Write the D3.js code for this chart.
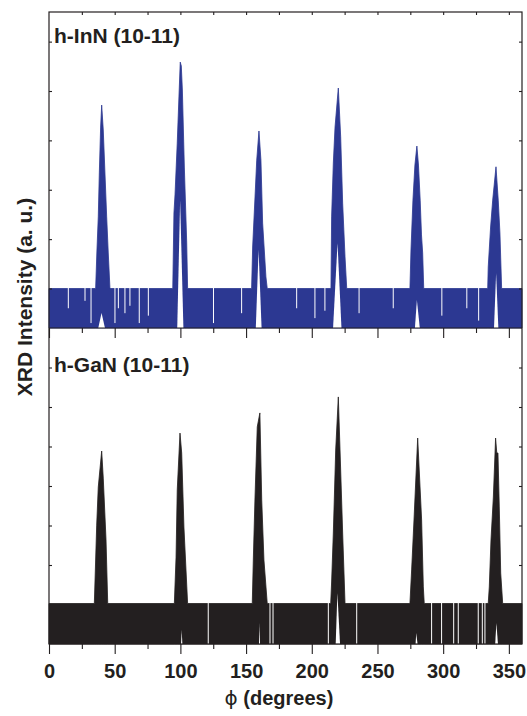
<!DOCTYPE html>
<html>
<head>
<meta charset="utf-8">
<script src="https://cdn.jsdelivr.net/npm/d3@7"></script>
<style>
  body { margin: 0; background: #fff; }
  text { font-family: Arial, "Liberation Sans", sans-serif; font-weight: bold; fill: #231f20; }
</style>
</head>
<body>
<div id="chart"></div>
<script>
// phi axis ticks
const phiMajor = [0, 50, 100, 150, 200, 250, 300, 350];
const phiMinor = [25, 75, 125, 175, 225, 275, 325];
const inNTicks = [200, 400, 600, 800, 1000, 1200];
const gaNTicks = [200, 400, 600, 800, 1000, 1200, 1400];

// h-InN (10-11): upper envelope of the trace [phi, counts]
const inNEnvelope = [
    [0, 200],
    [35.5, 200], [36.5, 356], [37.5, 490], [38.3, 668], [39.3, 854], [40.1, 943], [41.3, 842], [43.9, 490], [45.1, 344], [46.4, 200],
    [94.2, 200], [95.1, 506], [95.9, 579], [97.6, 789], [98.9, 976], [99.9, 1117], [100.7, 1101], [101.5, 1004], [103, 692], [104.8, 388], [105.5, 200],
    [154.2, 200], [155, 368], [156.8, 571], [158.1, 720], [159.8, 838], [161.3, 720], [162.6, 465], [165.1, 247], [166.1, 200],
    [214.6, 200], [215.1, 490], [216.4, 708], [217.7, 854], [220.2, 1012], [222, 814], [223.5, 546], [225.3, 328], [226.6, 200],
    [274.7, 200], [275.5, 356], [277, 558], [278.5, 700], [280, 777], [281.2, 700], [282.5, 558], [283.5, 417], [284.4, 344], [285.2, 200],
    [333.9, 200], [334.3, 287], [336.1, 449], [337.7, 558], [340.2, 693], [341.9, 558], [343.2, 425], [344.5, 200],
    [360, 200]
];
// white notches under the InN peaks (lowest counts reached)
const inNNotches = [
    [[37.5, 40], [40, 101], [42.6, 40]],
    [[97.6, 40], [99.8, 558], [102.3, 40]],
    [[157.4, 40], [159.5, 356], [161.8, 40]],
    [[216.2, 40], [219.6, 384], [222.6, 40]],
    [[278.5, 40], [280, 153], [282.2, 40]],
    [[338.7, 40], [340.3, 263], [342, 40]]
];
// dropouts in the InN noise band [phi, counts reached]
const inNGaps = [
    [14.7, 120], [27.4, 150], [32.0, 60], [50.2, 60], [52.8, 120], [57.8, 100], [61.6, 130],
    [68.7, 60], [75.6, 90], [125.2, 60], [146.6, 100], [188.5, 120], [202.4, 80], [210, 110],
    [236, 100], [262, 120], [299, 90], [318, 120], [327, 70]
];

// h-GaN (10-11)
const gaNEnvelope = [
    [0, 205],
    [34.5, 205], [36.3, 602], [37.5, 795], [40.1, 977], [41.3, 840], [43.4, 527], [44.7, 205],
    [95.4, 205], [96.7, 440], [97.6, 780], [99.7, 1068], [101, 967], [102.7, 592], [105.5, 205],
    [154.7, 205], [155.5, 425], [156.8, 744], [158.5, 1099], [160.5, 1170], [161.9, 729], [163.6, 425], [166.1, 205],
    [214.4, 205], [215.1, 314], [216.4, 562], [218.2, 982], [220.2, 1251], [221.5, 982], [223.5, 562], [225.3, 205],
    [274.7, 205], [276, 375], [277.8, 628], [280.6, 1043], [283.6, 628], [284.9, 289], [285.6, 205],
    [334.3, 205], [335.1, 289], [336.4, 527], [338.2, 744], [339.9, 1043], [340.8, 967], [341.7, 967], [342.7, 694], [343.8, 359], [345.3, 205],
    [360, 205]
];
const gaNNotches = [
    [[100.5, 0], [101, 71], [101.5, 0]],
    [[159.8, 0], [160.2, 106], [160.6, 0]],
    [[218.2, 0], [219.5, 258], [221.5, 0]],
    [[279, 0], [279.5, 56], [280.5, 0]],
    [[339.6, 0], [340.5, 106], [341.7, 0]]
];
const gaNGaps = [
    [121.2, 0], [168.2, 0], [170.5, 0], [212.6, 0], [234.2, 0], [291.2, 0], [298.8, 0],
    [308, 0], [311.5, 0], [326.7, 0], [329.8, 0], [331.8, 0]
];

const width = 527;
const height = 716;
const plot = { left: 49, right: 522, top: 12, mid: 328, bottom: 644 };
const ink = '#231f20';

const svg = d3.select('#chart').append('svg')
    .attr('width', width)
    .attr('height', height);

const x = d3.scaleLinear().domain([0, 360]).range([plot.left, plot.right]);
const yTop = d3.scaleLinear().domain([40, 1320]).range([plot.mid, plot.top]);
const yBot = d3.scaleLinear().domain([0, 1600]).range([plot.bottom, plot.mid]);

function drawTrace(envelope, notches, gaps, y, color, noiseTop) {
    const base = y.domain()[0];
    const area = d3.area()
        .x(d => x(d[0]))
        .y0(y(base))
        .y1(d => y(d[1]));
    svg.append('path')
        .datum(envelope)
        .attr('d', area)
        .attr('fill', color)
        .attr('stroke', color)
        .attr('stroke-width', 0.8);

    svg.selectAll(null)
        .data(notches)
        .enter().append('path')
        .attr('d', area)
        .attr('fill', '#fff');

    svg.selectAll(null)
        .data(gaps)
        .enter().append('line')
        .attr('x1', d => x(d[0]))
        .attr('x2', d => x(d[0]))
        .attr('y1', y(noiseTop) - 1)
        .attr('y2', d => y(d[1]))
        .attr('stroke', '#fff')
        .attr('stroke-width', 1);
}

drawTrace(inNEnvelope, inNNotches, inNGaps, yTop, '#2c3892', 200);
drawTrace(gaNEnvelope, gaNNotches, gaNGaps, yBot, ink, 205);

// axes
function addAxis(axis, tx, ty) {
    const g = svg.append('g')
        .attr('transform', `translate(${tx},${ty})`)
        .call(axis);
    g.select('.domain').remove();
    g.selectAll('line').attr('stroke', ink).attr('stroke-width', 1.1);
    return g;
}

// top border, inward ticks
addAxis(d3.axisBottom(x).tickValues(phiMajor.concat(phiMinor).filter(d => d > 0)).tickSize(3).tickFormat(''), 0, plot.top);
// middle axis (below InN panel), outward ticks
addAxis(d3.axisBottom(x).tickValues(phiMajor).tickSize(10).tickFormat(''), 0, plot.mid);
addAxis(d3.axisBottom(x).tickValues(phiMinor).tickSize(5).tickFormat(''), 0, plot.mid);
// bottom axis
const bottomAxis = addAxis(d3.axisBottom(x).tickValues(phiMajor).tickSize(10).tickPadding(9.8), 0, plot.bottom);
bottomAxis.selectAll('text')
    .attr('font-size', 20)
    .attr('font-family', 'Arial, "Liberation Sans", sans-serif')
    .attr('font-weight', 'bold')
    .attr('fill', ink);
addAxis(d3.axisBottom(x).tickValues(phiMinor).tickSize(5).tickFormat(''), 0, plot.bottom);

// y ticks, inward on both sides
addAxis(d3.axisRight(yTop).tickValues(inNTicks).tickSize(3).tickFormat(''), plot.left, 0);
addAxis(d3.axisLeft(yTop).tickValues(inNTicks).tickSize(3).tickFormat(''), plot.right, 0);
addAxis(d3.axisRight(yBot).tickValues(gaNTicks).tickSize(3).tickFormat(''), plot.left, 0);
addAxis(d3.axisLeft(yBot).tickValues(gaNTicks).tickSize(3).tickFormat(''), plot.right, 0);

// frame
svg.append('rect')
    .attr('x', plot.left)
    .attr('y', plot.top)
    .attr('width', plot.right - plot.left)
    .attr('height', plot.bottom - plot.top)
    .attr('fill', 'none')
    .attr('stroke', ink)
    .attr('stroke-width', 1.2);
svg.append('line')
    .attr('x1', plot.left)
    .attr('x2', plot.right)
    .attr('y1', plot.mid)
    .attr('y2', plot.mid)
    .attr('stroke', ink)
    .attr('stroke-width', 1.2);

// labels
svg.append('text')
    .attr('x', 54)
    .attr('y', 43)
    .attr('font-size', 21)
    .text('h-InN (10-11)');

svg.append('text')
    .attr('x', 54)
    .attr('y', 372)
    .attr('font-size', 21)
    .text('h-GaN (10-11)');

const xTitle = svg.append('text')
    .attr('x', 279)
    .attr('y', 705)
    .attr('text-anchor', 'middle')
    .attr('font-size', 20);
xTitle.append('tspan')
    .attr('font-family', '"DejaVu Sans", sans-serif')
    .attr('font-weight', 'normal')
    .text('\u03d5');
xTitle.append('tspan').text(' (degrees)');

svg.append('text')
    .attr('transform', 'translate(32,297) rotate(-90)')
    .attr('text-anchor', 'middle')
    .attr('font-size', 21)
    .text('XRD Intensity (a. u.)');
</script>
</body>
</html>
